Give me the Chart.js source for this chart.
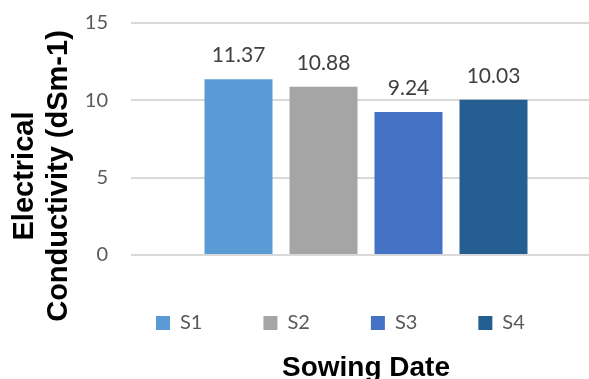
<!DOCTYPE html>
<html>
<head>
<meta charset="utf-8">
<title>Electrical Conductivity by Sowing Date</title>
<script src="https://cdn.jsdelivr.net/npm/chart.js@4"></script>
<style>
  html, body { margin: 0; padding: 0; background: #ffffff; overflow: hidden; }
  /* the plot area runs slightly past the right edge of the window */
  #wrap { width: 601px; height: 379px; position: relative; }
</style>
</head>
<body>
<div id="wrap"><canvas id="chart"></canvas></div>
<script>
// Data
const categories = [''];
const seriesNames = ['S1', 'S2', 'S3', 'S4'];
const seriesValues = [11.37, 10.88, 9.24, 10.03];
const seriesColors = ['#5b9bd5', '#a5a5a5', '#4472c4', '#255e91'];
const yTicks = [0, 5, 10, 15];
const yTitleLines = ['Electrical', 'Conductivity (dSm-1)'];
const xTitle = 'Sowing Date';

Chart.defaults.font.family = 'Lato, "Open Sans", sans-serif';

// Value labels written above each bar
const valueLabels = {
  id: 'valueLabels',
  afterDatasetsDraw(chart) {
    const ctx = chart.ctx;
    ctx.save();
    ctx.font = '21px Lato';
    ctx.fillStyle = '#404040';
    ctx.textAlign = 'center';
    ctx.textBaseline = 'alphabetic';
    chart.data.datasets.forEach((ds, i) => {
      chart.getDatasetMeta(i).data.forEach((bar, j) => {
        ctx.fillText(ds.data[j].toFixed(2), bar.x, bar.y - 17);
      });
    });
    ctx.restore();
  }
};

// Two-line vertical axis title, centred on the figure height
const yAxisTitle = {
  id: 'yAxisTitle',
  afterDraw(chart) {
    const ctx = chart.ctx;
    const baselines = [33, 67];
    ctx.save();
    ctx.font = 'bold 29px "Liberation Sans", Arial, sans-serif';
    ctx.fillStyle = '#000000';
    ctx.textAlign = 'center';
    ctx.textBaseline = 'alphabetic';
    yTitleLines.forEach((line, i) => {
      ctx.save();
      ctx.translate(baselines[i], 176);
      ctx.rotate(-Math.PI / 2);
      ctx.fillText(line, 0, 0);
      ctx.restore();
    });
    ctx.restore();
  }
};

// Start the legend row under the first bar, just below the baseline
const legendPlacement = {
  id: 'legendPlacement',
  afterLayout(chart) {
    const lg = chart.legend;
    if (!lg) return;
    lg.left = 156 - lg.options.labels.padding;
    lg.top = chart.chartArea.bottom - 3;
    lg.bottom = lg.top + lg.height;
  }
};

const datasets = seriesNames.map((name, i) => ({
  label: name,
  data: [seriesValues[i]],
  backgroundColor: seriesColors[i],
  borderWidth: 0,
  categoryPercentage: 0.7234,
  barPercentage: 0.8
}));

new Chart(document.getElementById('chart'), {
  type: 'bar',
  data: { labels: categories, datasets },
  options: {
    responsive: true,
    maintainAspectRatio: false,
    animation: false,
    layout: { padding: { left: 0, right: 0, top: 23, bottom: 0 } },
    plugins: {
      legend: {
        display: true,
        position: 'bottom',
        align: 'start',
        labels: {
          boxWidth: 14,
          boxHeight: 14,
          padding: 61,
          color: '#595959',
          font: { family: 'Lato', size: 20 }
        }
      },
      title: {
        display: true,
        text: xTitle,
        position: 'bottom',
        fullSize: false,
        color: '#000000',
        font: { family: '"Liberation Sans", Arial, sans-serif', size: 28, weight: 'bold', lineHeight: 0.8 },
        padding: { top: 10.6, bottom: 0 }
      },
      tooltip: { enabled: false }
    },
    scales: {
      x: {
        display: false
      },
      y: {
        min: 0,
        max: 15,
        afterBuildTicks: (scale) => { scale.ticks = yTicks.map(v => ({ value: v })); },
        afterFit: (scale) => {
          scale.width = 131;
          scale.paddingTop = 0;
          scale.paddingBottom = 0;
        },
        border: { display: false },
        grid: { color: '#d9d9d9', lineWidth: 2, drawTicks: false },
        ticks: {
          padding: 23,
          color: '#595959',
          font: { family: 'Lato', size: 20 }
        }
      }
    }
  },
  plugins: [valueLabels, yAxisTitle, legendPlacement]
});
</script>
</body>
</html>
